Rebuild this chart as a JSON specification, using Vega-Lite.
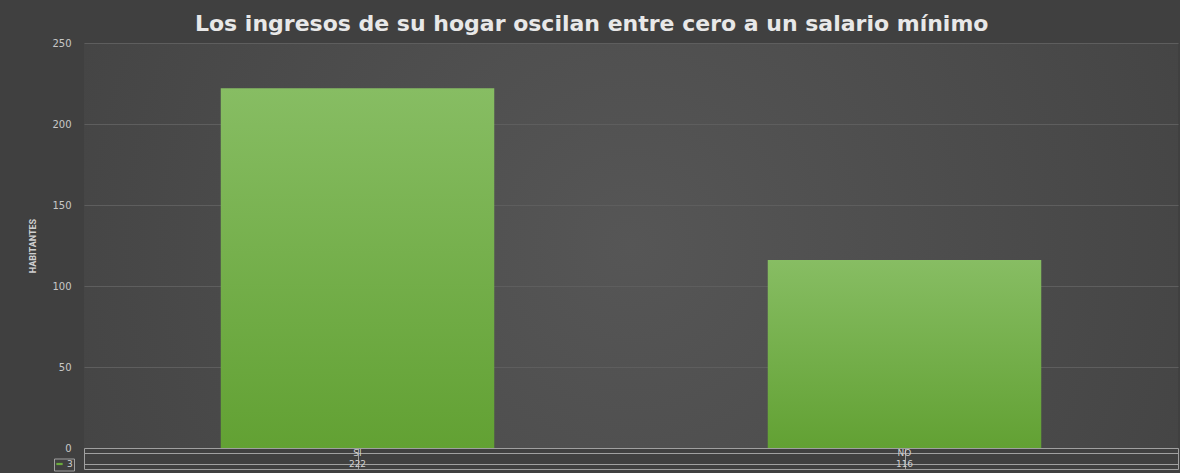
{
  "$schema": "https://vega.github.io/schema/vega-lite/v6.json",
  "background": "#404040",
  "padding": {"left": 28, "top": 13, "right": 3, "bottom": 2},
  "spacing": 0,
  "bounds": "flush",
  "title": {
    "text": "Los ingresos de su hogar oscilan entre cero a un salario mínimo",
    "font": "DejaVu Sans",
    "fontSize": 22,
    "fontWeight": "bold",
    "color": "#e8e8e8",
    "anchor": "middle",
    "frame": "bounds",
    "offset": 2,
    "dx": -12
  },
  "data": {
    "values": [
      {"categoria": "SI", "habitantes": 222, "serie": "3"},
      {"categoria": "NO", "habitantes": 116, "serie": "3"}
    ]
  },
  "config": {
    "font": "DejaVu Sans",
    "axis": {"labelColor": "#c8c8c8", "titleColor": "#d0d0d0"}
  },
  "vconcat": [
    {
      "width": 1094,
      "height": 405,
      "view": {
        "stroke": null,
        "fill": {
          "gradient": "radial",
          "x1": 0.5, "y1": 0.5, "r1": 0,
          "x2": 0.5, "y2": 0.5, "r2": 0.75,
          "stops": [
            {"offset": 0, "color": "#565656"},
            {"offset": 1, "color": "#3e3e3e"}
          ]
        }
      },
      "mark": {
        "type": "bar",
        "color": {
          "gradient": "linear",
          "x1": 0, "y1": 0, "x2": 0, "y2": 1,
          "stops": [
            {"offset": 0, "color": "#87bd63"},
            {"offset": 1, "color": "#62a133"}
          ]
        }
      },
      "encoding": {
        "x": {
          "field": "categoria",
          "type": "nominal",
          "sort": ["SI", "NO"],
          "scale": {"paddingInner": 0.5, "paddingOuter": 0.25},
          "axis": null
        },
        "y": {
          "field": "habitantes",
          "type": "quantitative",
          "scale": {"domain": [0, 250], "nice": false},
          "axis": {
            "title": "HABITANTES",
            "titleFont": "Roboto",
            "titleFontSize": 9,
            "titleFontWeight": "bold",
            "titlePadding": 14,
            "values": [0, 50, 100, 150, 200, 250],
            "labelFontSize": 10,
            "labelPadding": 13,
            "ticks": false,
            "domain": false,
            "grid": true,
            "gridColor": "#5e5e5e",
            "gridWidth": 1
          }
        }
      }
    },
    {
      "width": 1094,
      "height": 21,
      "view": {"stroke": "#a0a0a0", "strokeWidth": 1},
      "encoding": {
        "x": {
          "field": "categoria",
          "type": "nominal",
          "sort": ["SI", "NO"],
          "scale": {"paddingInner": 0, "paddingOuter": 0},
          "axis": {
            "title": null,
            "labels": false,
            "ticks": false,
            "domain": false,
            "grid": true,
            "bandPosition": 0,
            "gridColor": "#a0a0a0",
            "orient": "top"
          }
        }
      },
      "layer": [
        {
          "mark": {"type": "text", "fontSize": 9, "color": "#d0d0d0"},
          "encoding": {
            "y": {
              "datum": "fila1",
              "type": "nominal",
              "scale": {"domain": ["fila1", "fila2"], "paddingInner": 0, "paddingOuter": 0},
              "axis": {
                "title": null,
                "labels": false,
                "ticks": false,
                "domain": false,
                "grid": true,
                "bandPosition": 0,
                "gridColor": "#a0a0a0"
              }
            },
            "text": {"field": "categoria"}
          }
        },
        {
          "mark": {"type": "text", "fontSize": 9, "color": "#d0d0d0"},
          "encoding": {
            "y": {"datum": "fila2", "type": "nominal"},
            "text": {"field": "habitantes"}
          }
        },
        {
          "mark": {"type": "text", "text": ""},
          "encoding": {
            "y": {"datum": "fila2", "type": "nominal"},
            "fill": {
              "field": "serie",
              "type": "nominal",
              "scale": {"range": ["#6aab3c"]},
              "legend": {
                "title": null,
                "orient": "none",
                "legendX": -30,
                "legendY": 415.5,
                "padding": 1,
                "strokeColor": "#a0a0a0",
                "symbolType": "M-1,-0.35H1V0.35H-1Z",
                "symbolSize": 40,
                "symbolStrokeWidth": 0,
                "labelFontSize": 9,
                "labelColor": "#d0d0d0",
                "labelOffset": 3
              }
            }
          }
        }
      ]
    }
  ]
}
